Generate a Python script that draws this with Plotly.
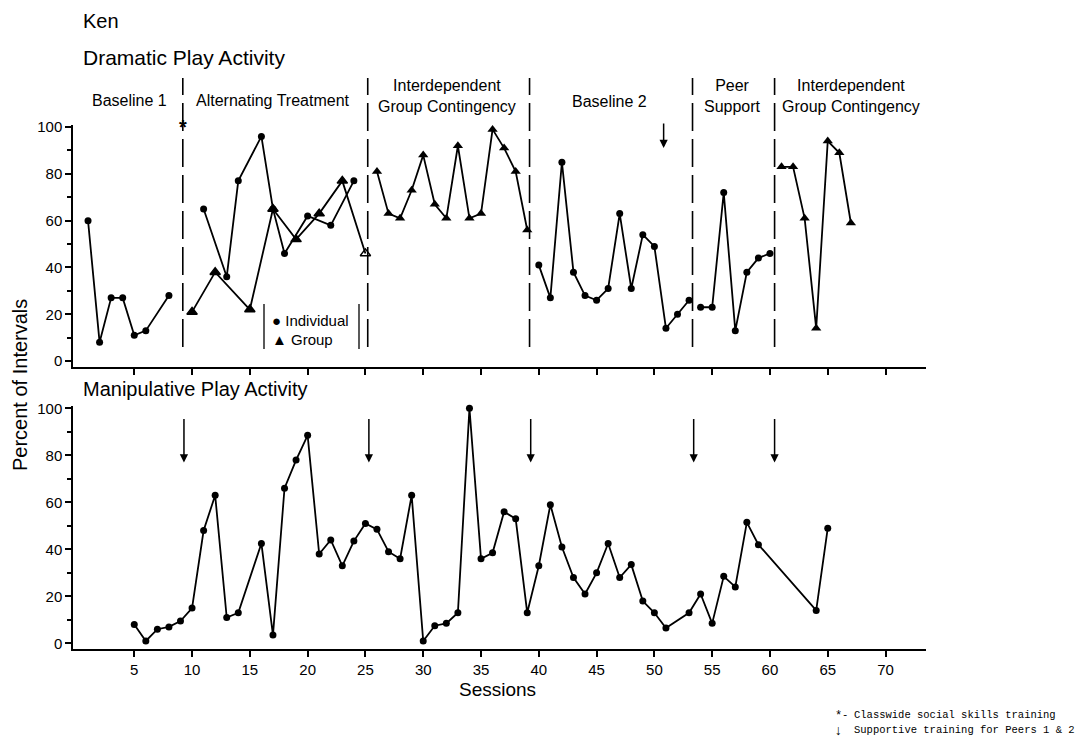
import plotly.graph_objects as go

# ---------------- data ----------------
# Dramatic play activity (top panel)
bl1_sess = [1, 2, 3, 4, 5, 6, 8]
bl1_vals = [60, 8, 27, 27, 11, 13, 28]

at_ind_sess = [11, 13, 14, 16, 17, 18, 20, 22, 24]
at_ind_vals = [65, 36, 77, 96, 65, 46, 62, 58, 77]
at_grp_sess = [10, 12, 15, 17, 19, 21, 23, 25]
at_grp_vals = [21, 38, 22, 65, 52, 63, 77, 46]

igc1_sess = [26, 27, 28, 29, 30, 31, 32, 33, 34, 35, 36, 37, 38, 39]
igc1_vals = [81, 63, 61, 73, 88, 67, 61, 92, 61, 63, 99, 91, 81, 56]

bl2_sess = [40, 41, 42, 43, 44, 45, 46, 47, 48, 49, 50, 51, 52, 53]
bl2_vals = [41, 27, 85, 38, 28, 26, 31, 63, 31, 54, 49, 14, 20, 26]

ps_sess = [54, 55, 56, 57, 58, 59, 60]
ps_vals = [23, 23, 72, 13, 38, 44, 46]

igc2_sess = [61, 62, 63, 64, 65, 66, 67]
igc2_vals = [83, 83, 61, 14, 94, 89, 59]

# Manipulative play activity (bottom panel)
man_sess = [5, 6, 7, 8, 9, 10, 11, 12, 13, 14, 16, 17, 18, 19, 20, 21, 22, 23, 24, 25,
            26, 27, 28, 29, 30, 31, 32, 33, 34, 35, 36, 37, 38, 39, 40, 41, 42, 43, 44,
            45, 46, 47, 48, 49, 50, 51, 53, 54, 55, 56, 57, 58, 59, 64, 65]
man_vals = [8, 1, 6, 7, 9.5, 15, 48, 63, 11, 13, 42.5, 3.5, 66, 78, 88.5, 38, 44, 33, 43.5, 51,
            48.5, 39, 36, 63, 1, 7.5, 8.5, 13, 100, 36, 38.5, 56, 53, 13, 33, 59, 41, 28, 21,
            30, 42.5, 28, 33.5, 18, 13, 6.5, 13, 21, 8.5, 28.5, 24, 51.5, 42, 14, 49]

# phase changes and annotations
phase_changes = [9.2, 25.2, 39.2, 53.3, 60.4]
phase_names = ["Baseline 1", "Alternating Treatment", "Interdependent<br>Group Contingency",
               "Baseline 2", "Peer<br>Support", "Interdependent<br>Group Contingency"]
top_arrow_sess = [50.8]
bottom_arrow_sess = [9.3, 25.3, 39.3, 53.4, 60.4]
x_ticks = [5, 10, 15, 20, 25, 30, 35, 40, 45, 50, 55, 60, 65, 70]

# ---------------- layout helpers ----------------
# the page body has an 8px margin, so the figure is placed at (8, 8)
OFF = 8
W, H = 1083 - OFF, 749 - OFF
FONT = "Liberation Sans, Arial, Helvetica, sans-serif"
X0_PX, X1_PX = 73, 926          # page pixels of the plot area
XR = [-0.3, 73.5]


def px(x):
    return (x - OFF) / W


def py(y):
    return 1 - (y - OFF) / H


def sess_to_page(s):
    return X0_PX + (s - XR[0]) / (XR[1] - XR[0]) * (X1_PX - X0_PX)


fig = go.Figure()

line_style = dict(color="black", width=1.8)
circ = dict(symbol="circle", size=7, color="black")
tri = dict(symbol="triangle-up", size=9, color="black")


def add(xs, ys, marker, xa, ya, symbols=None):
    m = dict(marker)
    if symbols is not None:
        m["symbol"] = symbols
        m["line"] = dict(color="black", width=1.5)
    fig.add_trace(go.Scatter(x=xs, y=ys, mode="lines+markers", line=line_style,
                             marker=m, xaxis=xa, yaxis=ya, showlegend=False,
                             cliponaxis=False))


add(bl1_sess, bl1_vals, circ, "x", "y")
add(at_ind_sess, at_ind_vals, circ, "x", "y")
add(at_grp_sess, at_grp_vals, tri, "x", "y",
    symbols=["triangle-up"] * (len(at_grp_sess) - 1) + ["triangle-up-open"])
add(igc1_sess, igc1_vals, tri, "x", "y")
add(bl2_sess, bl2_vals, circ, "x", "y")
add(ps_sess, ps_vals, circ, "x", "y")
add(igc2_sess, igc2_vals, tri, "x", "y")
add(man_sess, man_vals, circ, "x2", "y2")

axis_common = dict(showline=True, linecolor="black", linewidth=1.5, showgrid=False,
                   zeroline=False, ticks="outside", tickcolor="black", tickwidth=1.5,
                   automargin=False)

fig.update_layout(
    width=W, height=H,
    margin=dict(l=0, r=0, t=0, b=0),
    paper_bgcolor="white", plot_bgcolor="white",
    font=dict(family=FONT, color="black"),
    xaxis=dict(domain=[px(X0_PX), px(X1_PX)], range=XR, anchor="y",
               tickvals=x_ticks, showticklabels=False, ticklen=6, **axis_common),
    yaxis=dict(domain=[py(366.9), py(124.7)], range=[-2.5, 101], anchor="x",
               dtick=20, tick0=0, ticklen=6, tickfont=dict(size=15),
               minor=dict(dtick=10, ticklen=4, ticks="outside", tickcolor="black"),
               **axis_common),
    xaxis2=dict(domain=[px(X0_PX), px(X1_PX)], range=XR, anchor="y2", matches="x",
                tickvals=x_ticks, ticklen=6, tickfont=dict(size=15), **axis_common),
    yaxis2=dict(domain=[py(649.2), py(406)], range=[-2.5, 101], anchor="x2",
                dtick=20, tick0=0, ticklen=6, tickfont=dict(size=15),
                minor=dict(dtick=10, ticklen=4, ticks="outside", tickcolor="black"),
                **axis_common),
)

shapes = []
# dashed phase change lines in top panel
for s in phase_changes:
    xp = px(sess_to_page(s))
    shapes.append(dict(type="line", xref="paper", yref="paper", x0=xp, x1=xp,
                       y0=py(347), y1=py(78),
                       line=dict(color="black", width=1.6, dash="28px,8px")))
# legend bracket
for xl in [264, 359]:
    shapes.append(dict(type="line", xref="paper", yref="paper", x0=px(xl), x1=px(xl),
                       y0=py(349), y1=py(304), line=dict(color="black", width=1.3)))
fig.update_layout(shapes=shapes)

ann = []


def text(t, x, y, size, xanchor="left", family=FONT, **kw):
    ann.append(dict(text=t, x=px(x), y=py(y), xref="paper", yref="paper",
                    showarrow=False, xanchor=xanchor, yanchor="middle",
                    font=dict(size=size, family=family, color="black"), **kw))


text("Ken", 81, 21, 20)
text("Dramatic Play Activity", 81, 58, 21)
text("Manipulative Play Activity", 81, 389, 20)
text("Sessions", 497, 689, 19, xanchor="center")
text("Percent of Intervals", 20, 385, 20, xanchor="center", textangle=-90)

# phase labels centred in their phases
label_centres = [129, 273, 447, 609, 732, 851]
label_y = [100, 100, 96, 102, 96, 96]
for name, cx, cy in zip(phase_names, label_centres, label_y):
    text(name, cx, cy, 16, xanchor="center")

# star above first phase line
text("<b>*</b>", sess_to_page(phase_changes[0]), 127, 20, xanchor="center")

# legend
text("\u25CF Individual", 270, 320, 15)
text("\u25B2 Group", 270, 339, 15)

# footnote
MONO = "Liberation Mono, DejaVu Sans Mono, monospace"
text("*", 838, 716, 12, xanchor="center", family=MONO)
text("-", 845, 715, 10.5, xanchor="center", family=MONO)
text("Classwide social skills training", 852, 715, 10.5, family=MONO)
text("\u2193", 838, 731, 14, xanchor="center", family=MONO)
text("Supportive training for Peers 1 & 2", 852, 730, 10.5, family=MONO)

# arrows
for s in top_arrow_sess:
    ann.append(dict(x=s, y=91, xref="x", yref="y", text="", showarrow=True,
                    ax=0, ay=-26, arrowhead=2, arrowsize=1.1, arrowwidth=1.5,
                    arrowcolor="black"))
for s in bottom_arrow_sess:
    ann.append(dict(x=s, y=77, xref="x2", yref="y2", text="", showarrow=True,
                    ax=0, ay=-45, arrowhead=2, arrowsize=1.1, arrowwidth=1.5,
                    arrowcolor="black"))

fig.update_layout(annotations=ann)

fig.write_html("out.html")
